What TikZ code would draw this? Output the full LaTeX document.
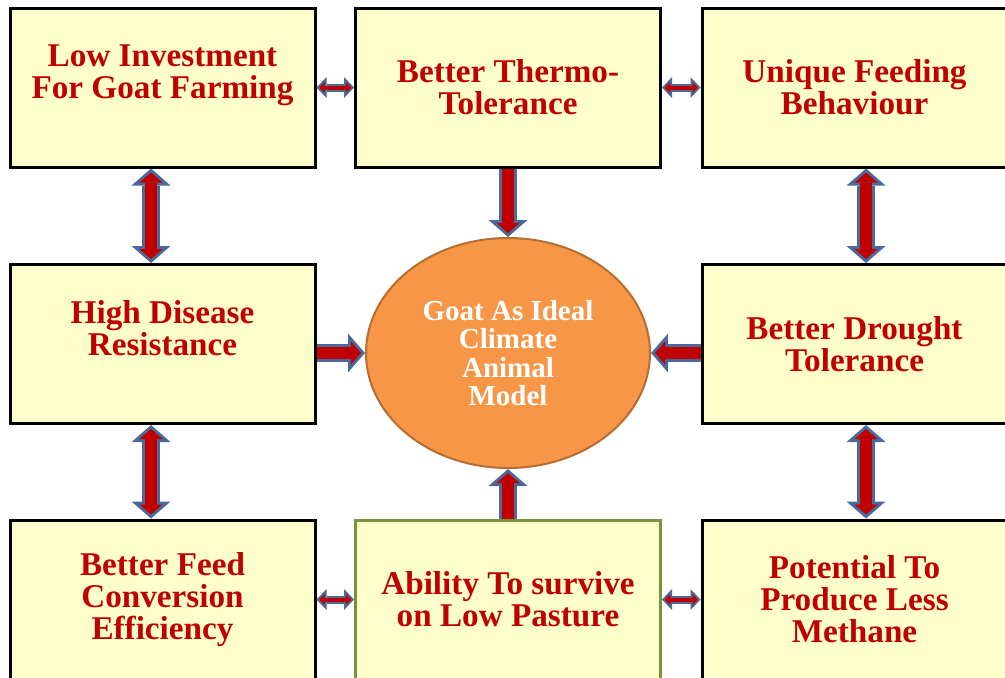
\documentclass[tikz,border=0pt]{standalone}
\usepackage{fontspec}
\setmainfont{Liberation Serif}
\usetikzlibrary{arrows.meta,shapes.geometric}

\definecolor{boxfill}{HTML}{FFFFCC}
\definecolor{textred}{HTML}{C00000}
\definecolor{goatfill}{HTML}{F79646}
\definecolor{goatedge}{HTML}{B66D31}
\definecolor{arrowred}{HTML}{C00000}
\definecolor{arrowedge}{HTML}{4A6A9C}
\definecolor{pastureedge}{HTML}{77933C}

\tikzset{
  trait/.style={draw=black, line width=1.5pt, fill=boxfill, minimum width=152.5pt,
    minimum height=79.5pt, inner sep=0pt, align=center, text=textred,
    font=\bfseries\fontsize{16.6}{16}\selectfont},
  core/.style={ellipse, draw=goatedge, line width=1pt, fill=goatfill, minimum width=142pt,
    minimum height=115pt, inner sep=0pt, align=center, text=white,
    font=\bfseries\fontsize{14.5}{14.25}\selectfont},
  % red block arrow with a blue rim, drawn as two passes
  fatarrow/.style={draw=arrowred, line width=6pt, shorten >=2pt,
    -{Triangle[length=5pt,width=11.5pt,line width=0pt]},
    preaction={draw=arrowedge, line width=9pt, shorten >=0pt,
      -{Triangle[length=8.5pt,width=19.5pt,line width=0pt]}}},
  fatpair/.style={draw=arrowred, line width=6pt, shorten >=2pt, shorten <=2pt,
    {Triangle[length=5pt,width=11.5pt,line width=0pt]}-{Triangle[length=5pt,width=11.5pt,line width=0pt]},
    preaction={draw=arrowedge, line width=9pt, shorten >=0pt, shorten <=0pt,
      {Triangle[length=8.5pt,width=19.5pt,line width=0pt]}-{Triangle[length=8.5pt,width=19.5pt,line width=0pt]}}},
  slimpair/.style={draw=arrowred, line width=2pt, shorten >=1.4pt, shorten <=1.4pt,
    {Triangle[length=2.6pt,width=5.5pt,line width=0pt]}-{Triangle[length=2.6pt,width=5.5pt,line width=0pt]},
    preaction={draw=arrowedge, line width=4pt, shorten >=0pt, shorten <=0pt,
      {Triangle[length=5pt,width=10.5pt,line width=0pt]}-{Triangle[length=5pt,width=10.5pt,line width=0pt]}}}
}

\begin{document}
\begin{tikzpicture}[x=0.5pt,y=-0.5pt]
\useasboundingbox (0,0) rectangle (1005,677);
\clip (0,0) rectangle (1005,677);

% the eight traits
\node[trait,text depth=16pt] (low) at (162.5,87.5) {Low Investment\\For Goat Farming};
\node[trait] (thermo) at (508,87.5) {Better Thermo-\\Tolerance};
\node[trait] (feeding) at (854.5,87.5) {Unique Feeding\\Behaviour};
\node[trait,text depth=16pt] (disease) at (162.5,344) {High Disease\\Resistance};
\node[trait] (drought) at (854.5,344) {Better Drought\\Tolerance};
\node[trait] (feed) at (162.5,599.5) {Better Feed\\Conversion\\Efficiency};
\node[trait,draw=pastureedge] (pasture) at (508,599.5) {Ability To survive\\on Low Pasture};
\node[trait] (methane) at (854.5,599.5) {Potential To\\Produce Less\\Methane};

\node[core] (goat) at (508,353) {Goat As Ideal\\Climate\\Animal\\Model};

% into the centre
\draw[fatarrow] (thermo.south) -- (goat.north);
\draw[fatarrow] (pasture.north) -- (goat.south);
\draw[fatarrow] (disease.east |- goat) -- (goat.west);
\draw[fatarrow] (drought.west |- goat) -- (goat.east);

% between the columns
\draw[fatpair] ([xshift=-5.75pt]low.south) -- ([xshift=-5.75pt]disease.north);
\draw[fatpair] ([xshift=-5.75pt]disease.south) -- ([xshift=-5.75pt]feed.north);
\draw[fatpair] ([xshift=5.75pt]feeding.south) -- ([xshift=5.75pt]drought.north);
\draw[fatpair] ([xshift=5.75pt]drought.south) -- ([xshift=5.75pt]methane.north);

% along the rows
\draw[slimpair] (low.east) -- (thermo.west);
\draw[slimpair] (thermo.east) -- (feeding.west);
\draw[slimpair] (feed.east) -- (pasture.west);
\draw[slimpair] (pasture.east) -- (methane.west);
\end{tikzpicture}
\end{document}
